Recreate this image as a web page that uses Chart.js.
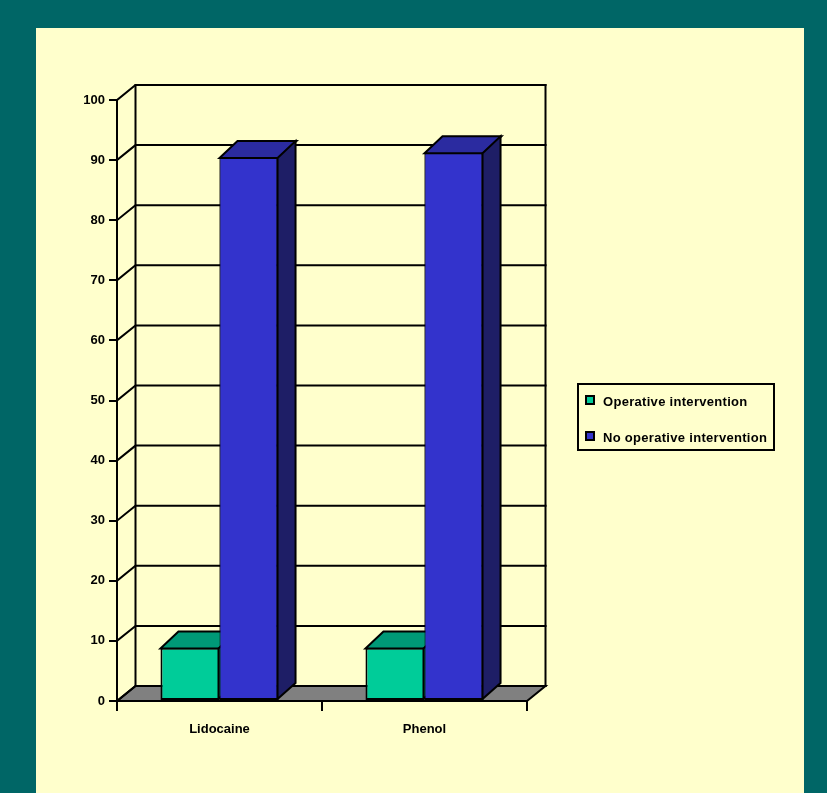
<!DOCTYPE html>
<html>
<head>
<meta charset="utf-8">
<script src="https://cdn.jsdelivr.net/npm/chart.js@4.4.0/dist/chart.umd.min.js"></script>
<style>
  html, body { margin: 0; padding: 0; background: #006666; }
  body { width: 827px; height: 793px; position: relative; overflow: hidden; }
  #wrap { position: absolute; left: 36px; top: 28px; width: 768px; height: 765px; background: #FFFFCC; }
</style>
</head>
<body>
<div id="wrap"><canvas id="chart" width="768" height="765"></canvas></div>
<script>
var categories = ['Lidocaine', 'Phenol'];
var operative = [8.9, 8.9];
var no_operative = [90.5, 91.3];
var series_names = ['Operative intervention', 'No operative intervention'];
var y_max = 100;
var y_step = 10;

const FONT = "'Liberation Sans', Arial, sans-serif";

// 3d depth of walls and of the bars
const wall_dx = 18.5, wall_dy = -15;
const bar_dx = 18, bar_dy = -17;

const faces = [
    { front: '#00CC99', top: '#009977', side: '#007755' },
    { front: '#3333CC', top: '#2B2BA0', side: '#1E1E66' }
];

function draw_box(ctx, bar, f) {
    const p = bar.getProps(['x', 'y', 'base', 'width'], true);
    const L = p.x - p.width / 2, R = p.x + p.width / 2;
    const T = p.y + 1, B = p.base;
    // top face
    ctx.beginPath();
    ctx.moveTo(L, T);
    ctx.lineTo(R, T);
    ctx.lineTo(R + bar_dx, T + bar_dy);
    ctx.lineTo(L + bar_dx, T + bar_dy);
    ctx.closePath();
    ctx.fillStyle = f.top;
    ctx.fill();
    ctx.stroke();
    // right face
    ctx.beginPath();
    ctx.moveTo(R - 1, T);
    ctx.lineTo(R - 1 + bar_dx, T + bar_dy);
    ctx.lineTo(R - 1 + bar_dx, B + bar_dy);
    ctx.lineTo(R - 1, B - 1);
    ctx.closePath();
    ctx.fillStyle = f.side;
    ctx.fill();
    ctx.stroke();
}

var walls = {
    id: 'walls',
    beforeDatasetsDraw(chart) {
        const ctx = chart.ctx;
        const y = chart.scales.y;
        const l = chart.chartArea.left, r = chart.chartArea.right;
        const b = y.getPixelForValue(0);
        ctx.save();
        ctx.lineWidth = 2;
        ctx.strokeStyle = '#000';
        ctx.lineCap = 'square';

        // floor
        ctx.beginPath();
        ctx.moveTo(l, b);
        ctx.lineTo(r, b);
        ctx.lineTo(r + wall_dx, b + wall_dy);
        ctx.lineTo(l + wall_dx, b + wall_dy);
        ctx.closePath();
        ctx.fillStyle = '#808080';
        ctx.fill();
        ctx.stroke();

        // back wall grid + side diagonals
        for (var v = 0; v <= y_max; v += y_step) {
            const py = y.getPixelForValue(v);
            ctx.beginPath();
            ctx.moveTo(l, py);
            ctx.lineTo(l + wall_dx, py + wall_dy);
            ctx.lineTo(r + wall_dx, py + wall_dy);
            ctx.stroke();
        }
        const top = y.getPixelForValue(y_max) + wall_dy;
        ctx.beginPath();
        ctx.moveTo(l + wall_dx, top);
        ctx.lineTo(l + wall_dx, b + wall_dy);
        ctx.moveTo(r + wall_dx, top);
        ctx.lineTo(r + wall_dx, b + wall_dy);
        ctx.stroke();
        ctx.restore();
    },
    afterDatasetsDraw(chart) {
        // series left to right: each later series' front hides the earlier boxes
        const ctx = chart.ctx;
        const n = chart.data.datasets.length;
        for (var i = 0; i < n; i++) {
            const meta = chart.getDatasetMeta(i);
            ctx.save();
            ctx.lineWidth = 2;
            ctx.strokeStyle = '#000';
            if (i > 0) meta.data.forEach(function (bar) { bar.draw(ctx, chart.chartArea); });
            ctx.restore();
            ctx.save();
            ctx.lineWidth = 2;
            ctx.strokeStyle = '#000';
            meta.data.forEach(function (bar) { draw_box(ctx, bar, faces[i]); });
            ctx.restore();
        }
    },
    afterDraw(chart) {
        // framed legend
        const ctx = chart.ctx;
        ctx.save();
        ctx.lineWidth = 2;
        ctx.strokeStyle = '#000';
        ctx.fillStyle = '#FFFFCC';
        ctx.fillRect(542, 356, 196, 66);
        ctx.strokeRect(542, 356, 196, 66);
        ctx.font = 'bold 13px ' + FONT;
        ctx.letterSpacing = '0.3px';
        ctx.textBaseline = 'middle';
        const rows = [372, 408];
        series_names.forEach(function (name, i) {
            ctx.fillStyle = faces[i].front;
            ctx.fillRect(550, rows[i] - 4, 8, 8);
            ctx.strokeRect(550, rows[i] - 4, 8, 8);
            ctx.fillStyle = '#000';
            ctx.fillText(name, 567, rows[i] + 2);
        });
        ctx.restore();
    }
};

new Chart(document.getElementById('chart'), {
    type: 'bar',
    data: {
        labels: categories,
        datasets: [
            {
                label: series_names[0],
                data: operative,
                backgroundColor: faces[0].front,
                borderColor: '#000',
                borderWidth: { top: 2, left: 2, right: 1, bottom: 2 },
                borderSkipped: false
            },
            {
                label: series_names[1],
                data: no_operative,
                backgroundColor: faces[1].front,
                borderColor: '#000',
                borderWidth: { top: 2, left: 1, right: 2, bottom: 2 },
                borderSkipped: false
            }
        ]
    },
    options: {
        responsive: false,
        animation: false,
        events: [],
        layout: { padding: { left: 0, top: 72, right: 277, bottom: 0 } },
        categoryPercentage: 0.576,
        barPercentage: 1.0,
        plugins: { legend: { display: false }, tooltip: { enabled: false } },
        scales: {
            x: {
                afterFit(scale) { scale.height = 92; },
                grid: { offset: true, drawOnChartArea: false, color: '#000', lineWidth: 2, tickLength: 10 },
                border: { color: '#000', width: 2 },
                ticks: { color: '#000', padding: 11, font: { family: FONT, size: 13, weight: 'bold' } }
            },
            y: {
                min: 0,
                max: y_max,
                afterFit(scale) { scale.width = 81; },
                grid: { drawOnChartArea: false, color: '#000', lineWidth: 2, tickLength: 8 },
                border: { color: '#000', width: 2 },
                ticks: { stepSize: y_step, color: '#000', padding: 4, font: { family: FONT, size: 13, weight: 'bold' } }
            }
        }
    },
    plugins: [walls]
});
</script>
</body>
</html>
